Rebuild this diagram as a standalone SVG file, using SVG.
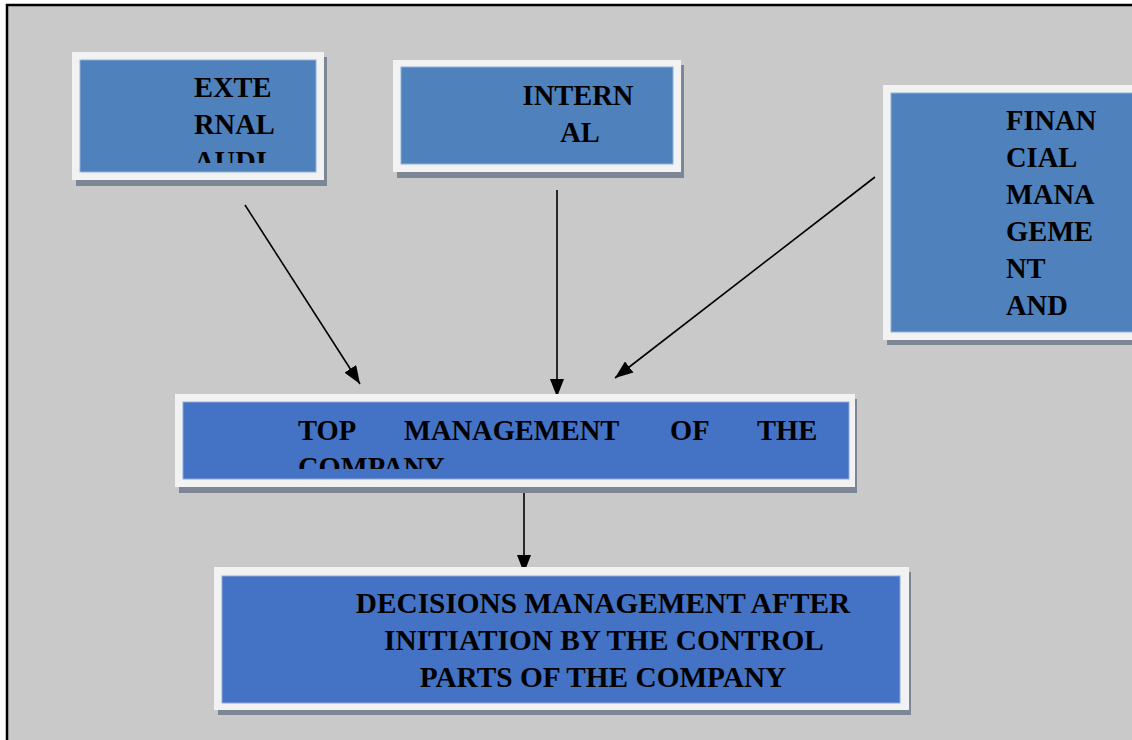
<svg xmlns="http://www.w3.org/2000/svg" width="1132" height="740" viewBox="0 0 1132 740">
<style>
.frame{fill:#f2f2f2}
.shadow{fill:#7d8694}
.b1{fill:#4f81bd;stroke:#8fb0d8;stroke-width:1}
.b2{fill:#4472c4;stroke:#8fa8dc;stroke-width:1}
.t{font-family:"Liberation Serif","Times New Roman",serif;font-weight:bold;font-size:28.5px;fill:#000}
.d{font-size:29.3px}
.c{stroke:#000;stroke-width:1.6;fill:none}
</style>
<defs>
<marker id="ah" viewBox="0 0 18 14" refX="18" refY="7" markerWidth="18" markerHeight="14" markerUnits="userSpaceOnUse" orient="auto">
<path d="M0,0 L18,7 L0,14 Z" fill="#000"/>
</marker>
<clipPath id="clipExt"><rect x="80" y="60" width="236" height="103"/></clipPath>
<clipPath id="clipTop"><rect x="183" y="402" width="666" height="67"/></clipPath>
</defs>
<rect x="0" y="0" width="1132" height="740" fill="#ffffff"/>
<rect x="7" y="5" width="1125" height="735" fill="#c9c9c9"/>
<path d="M7,740 V5 H1132" stroke="#000" stroke-width="2.5" fill="none"/>

<g id="connectors">
<line class="c" x1="245" y1="205" x2="360" y2="384" marker-end="url(#ah)"/>
<line class="c" x1="557" y1="190" x2="557" y2="397" marker-end="url(#ah)"/>
<line class="c" x1="875" y1="177" x2="615" y2="378" marker-end="url(#ah)"/>
<line class="c" x1="524" y1="488" x2="524" y2="573" marker-end="url(#ah)"/>
</g>

<g id="external">
<rect class="shadow" x="76" y="57" width="251" height="129"/>
<rect class="frame" x="72" y="52" width="252" height="128"/>
<rect class="b1" x="80" y="60" width="236" height="112"/>
<g clip-path="url(#clipExt)">
<text class="t" x="194" y="97">EXTE</text>
<text class="t" x="194" y="134">RNAL</text>
<text class="t" x="194" y="171">AUDI</text>
</g>
</g>

<g id="internal">
<rect class="shadow" x="397" y="65" width="287" height="113"/>
<rect class="frame" x="393" y="60" width="288" height="112"/>
<rect class="b1" x="401" y="67" width="272" height="97"/>
<text class="t" x="578" y="105" text-anchor="middle">INTERN</text>
<text class="t" x="580" y="142" text-anchor="middle">AL</text>
</g>

<g id="financial">
<rect class="shadow" x="887" y="90" width="250" height="255"/>
<rect class="frame" x="883" y="85" width="254" height="255"/>
<rect class="b1" x="891" y="93" width="250" height="239"/>
<text class="t" x="1006" y="130">FINAN</text>
<text class="t" x="1006" y="167">CIAL</text>
<text class="t" x="1006" y="204">MANA</text>
<text class="t" x="1006" y="241">GEME</text>
<text class="t" x="1006" y="278">NT</text>
<text class="t" x="1006" y="315">AND</text>
</g>

<g id="top-management">
<rect class="shadow" x="179" y="399" width="678" height="94"/>
<rect class="frame" x="175" y="394" width="680" height="93"/>
<rect class="b2" x="183" y="402" width="666" height="77"/>
<g clip-path="url(#clipTop)">
<text class="t" x="298" y="440">TOP</text>
<text class="t" x="404" y="440">MANAGEMENT</text>
<text class="t" x="670" y="440">OF</text>
<text class="t" x="757" y="440">THE</text>
<text class="t" x="298" y="477">COMPANY</text>
</g>
</g>

<g id="decisions">
<rect class="shadow" x="218" y="572" width="693" height="143"/>
<rect class="frame" x="214" y="567" width="695" height="143"/>
<rect class="b2" x="222" y="576" width="678" height="127"/>
<text class="t d" x="603" y="613" text-anchor="middle">DECISIONS MANAGEMENT AFTER</text>
<text class="t d" x="604" y="650" text-anchor="middle">INITIATION BY THE CONTROL</text>
<text class="t d" x="603" y="687" text-anchor="middle">PARTS OF THE COMPANY</text>
</g>
</svg>
